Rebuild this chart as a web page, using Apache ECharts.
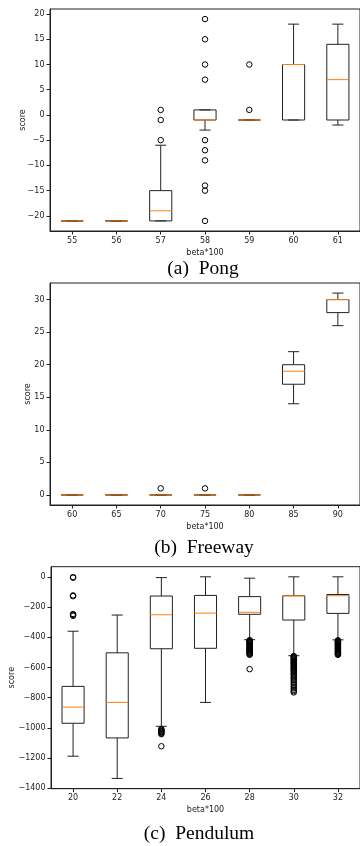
<!DOCTYPE html>
<html>
<head>
<meta charset="utf-8">
<script src="https://cdn.jsdelivr.net/npm/echarts@6/dist/echarts.min.js"></script>
<style>
html,body{margin:0;padding:0;background:#fff;}
#chart{width:360px;height:846px;}
</style>
</head>
<body>
<div id="chart"></div>
<script>
// ---- Pong ----
const pongCategories = ['55', '56', '57', '58', '59', '60', '61'];
// [lowWhisker, Q1, median, Q3, highWhisker]
const pongBoxes = [
  [-21, -21, -21, -21, -21],
  [-21, -21, -21, -21, -21],
  [-21, -21, -19, -15, -6],
  [-3, -1, -1, 1, 1],
  [-1, -1, -1, -1, -1],
  [-1, -1, 10, 10, 18],
  [-2, -1, 7, 14, 18]
];
const pongOutliers = [
  [2, -5], [2, -1], [2, 1],
  [3, 19], [3, 15], [3, 10], [3, 7], [3, -5], [3, -7], [3, -9], [3, -14], [3, -15], [3, -21],
  [4, 10], [4, 1]
];
const pongTicks = [-20, -15, -10, -5, 0, 5, 10, 15, 20];

// ---- Freeway ----
const freewayCategories = ['60', '65', '70', '75', '80', '85', '90'];
const freewayBoxes = [
  [0, 0, 0, 0, 0],
  [0, 0, 0, 0, 0],
  [0, 0, 0, 0, 0],
  [0, 0, 0, 0, 0],
  [0, 0, 0, 0, 0],
  [14, 17, 19, 20, 22],
  [26, 28, 30, 30, 31]
];
const freewayOutliers = [[2, 1], [3, 1]];
const freewayTicks = [0, 5, 10, 15, 20, 25, 30];

// ---- Pendulum ----
const pendulumCategories = ['20', '22', '24', '26', '28', '30', '32'];
const pendulumBoxes = [
  [-1187, -969, -862, -725, -360],
  [-1334, -1066, -831, -503, -253],
  [-989, -476, -251, -127, -5],
  [-831, -473, -240, -123, 0],
  [-416, -248, -235, -131, -9],
  [-522, -286, -126, -125, 0],
  [-417, -242, -125, -117, 0]
];
const pendulumOutliers = [
  [0, -2], [0, -6], [0, -123], [0, -128], [0, -246], [0, -252], [0, -258],
  [2, -1007], [2, -1012], [2, -1018], [2, -1022], [2, -1027], [2, -1031], [2, -1036], [2, -1041], [2, -1121],
  [4, -419], [4, -423], [4, -427], [4, -431], [4, -435], [4, -439], [4, -443], [4, -447], [4, -451], [4, -456],
  [4, -460], [4, -464], [4, -469], [4, -473], [4, -477], [4, -482], [4, -486], [4, -491], [4, -495], [4, -500],
  [4, -504], [4, -508], [4, -512], [4, -516], [4, -611],
  [5, -524], [5, -529], [5, -534], [5, -539], [5, -544], [5, -549], [5, -554], [5, -559], [5, -564], [5, -569],
  [5, -574], [5, -579], [5, -585], [5, -590], [5, -596], [5, -601], [5, -607], [5, -613], [5, -619], [5, -626],
  [5, -633], [5, -640], [5, -648], [5, -656], [5, -665], [5, -674], [5, -684], [5, -694], [5, -705], [5, -716],
  [5, -727], [5, -738], [5, -748], [5, -757], [5, -765],
  [6, -420], [6, -424], [6, -428], [6, -432], [6, -436], [6, -440], [6, -444], [6, -448], [6, -452], [6, -457],
  [6, -461], [6, -465], [6, -470], [6, -474], [6, -478], [6, -483], [6, -487], [6, -492], [6, -496], [6, -501],
  [6, -505], [6, -509], [6, -513], [6, -516]
];
const pendulumTicks = [-1400, -1200, -1000, -800, -600, -400, -200, 0];

const plots = [
  { cats: pongCategories, boxes: pongBoxes, outliers: pongOutliers, ticks: pongTicks,
    min: -23, max: 21, top: 9, nameGap: 23, caption: '(a)\u2002Pong', capX: 203, capY: 269 },
  { cats: freewayCategories, boxes: freewayBoxes, outliers: freewayOutliers, ticks: freewayTicks,
    min: -1.55, max: 32.55, top: 283, nameGap: 18, caption: '(b)\u2002Freeway', capX: 204, capY: 548 },
  { cats: pendulumCategories, boxes: pendulumBoxes, outliers: pendulumOutliers, ticks: pendulumTicks,
    min: -1402, max: 67, top: 566.7, nameGap: 35, caption: '(c)\u2002Pendulum', capX: 199, capY: 834 }
];

const INK = '#222';
const MEDIAN = '#ff7f0e';
const FONT = 'DejaVu Sans';

function renderBox(params, api) {
  const i = api.value(0);
  const lo = api.coord([i, api.value(1)]);
  const q1 = api.coord([i, api.value(2)]);
  const med = api.coord([i, api.value(3)]);
  const q3 = api.coord([i, api.value(4)]);
  const hi = api.coord([i, api.value(5)]);
  const band = api.size([1, 0])[0];
  const bw = band * 0.5;
  const cw = band * 0.25;
  const cx = lo[0];
  const ls = { stroke: INK, lineWidth: 1, fill: null };
  return {
    type: 'group',
    children: [
      { type: 'line', shape: { x1: cx, y1: q1[1], x2: cx, y2: lo[1] }, style: ls },
      { type: 'line', shape: { x1: cx, y1: q3[1], x2: cx, y2: hi[1] }, style: ls },
      { type: 'line', shape: { x1: cx - cw / 2, y1: lo[1], x2: cx + cw / 2, y2: lo[1] }, style: ls },
      { type: 'line', shape: { x1: cx - cw / 2, y1: hi[1], x2: cx + cw / 2, y2: hi[1] }, style: ls },
      { type: 'rect', shape: { x: cx - bw / 2, y: q3[1], width: bw, height: q1[1] - q3[1] }, style: ls },
      { type: 'line', shape: { x1: cx - bw / 2, y1: med[1], x2: cx + bw / 2, y2: med[1] },
        style: { stroke: MEDIAN, lineWidth: 1 } }
    ]
  };
}

const minus = v => String(v).replace('-', '\u2212');
const textStyle = { fontFamily: FONT, fontSize: 8, color: INK };

const option = {
  animation: false,
  backgroundColor: '#fff',
  grid: plots.map(p => ({
    left: 50, top: p.top, width: 313.6, height: 222,
    show: true, borderColor: INK, borderWidth: 1, containLabel: false
  })),
  xAxis: plots.map((p, k) => ({
    type: 'category', gridIndex: k, data: p.cats, boundaryGap: true,
    axisLine: { show: true, onZero: false, lineStyle: { color: INK, width: 1 } },
    axisTick: { show: true, alignWithLabel: true, interval: 0, length: 3.5, lineStyle: { color: INK } },
    axisLabel: Object.assign({ interval: 0, margin: 5.5 }, textStyle),
    splitLine: { show: false },
    name: 'beta*100', nameLocation: 'middle', nameGap: 17.5, nameMoveOverlap: false,
    nameTextStyle: textStyle
  })),
  yAxis: plots.map((p, k) => ({
    type: 'value', gridIndex: k, min: p.min, max: p.max,
    axisLine: { show: true, onZero: false, lineStyle: { color: INK, width: 1 } },
    axisTick: { show: true, length: 3.5, customValues: p.ticks, lineStyle: { color: INK } },
    axisLabel: Object.assign({ customValues: p.ticks, margin: 5.5, formatter: minus }, textStyle),
    splitLine: { show: false },
    name: 'score', nameLocation: 'middle', nameRotate: 90, nameGap: p.nameGap, nameMoveOverlap: false,
    nameTextStyle: textStyle
  })),
  series: [].concat(...plots.map((p, k) => [
    {
      type: 'custom', xAxisIndex: k, yAxisIndex: k,
      data: p.boxes.map((b, i) => [i].concat(b)),
      encode: { x: 0, y: [1, 2, 3, 4, 5] },
      renderItem: renderBox, silent: true, z: 2
    },
    {
      type: 'scatter', xAxisIndex: k, yAxisIndex: k,
      data: p.outliers, symbol: 'circle', symbolSize: 5.5,
      itemStyle: { color: 'rgba(0,0,0,0)', borderColor: '#000', borderWidth: 1, opacity: 1 },
      silent: true, z: 3
    }
  ])),
  graphic: plots.map(p => ({
    type: 'text', x: p.capX, y: p.capY,
    style: { text: p.caption, font: '19.5px "Liberation Serif"', fill: '#000', align: 'center', verticalAlign: 'middle' }
  }))
};

const chart = echarts.init(document.getElementById('chart'), null, { renderer: 'canvas' });
chart.setOption(option);
</script>
</body>
</html>
